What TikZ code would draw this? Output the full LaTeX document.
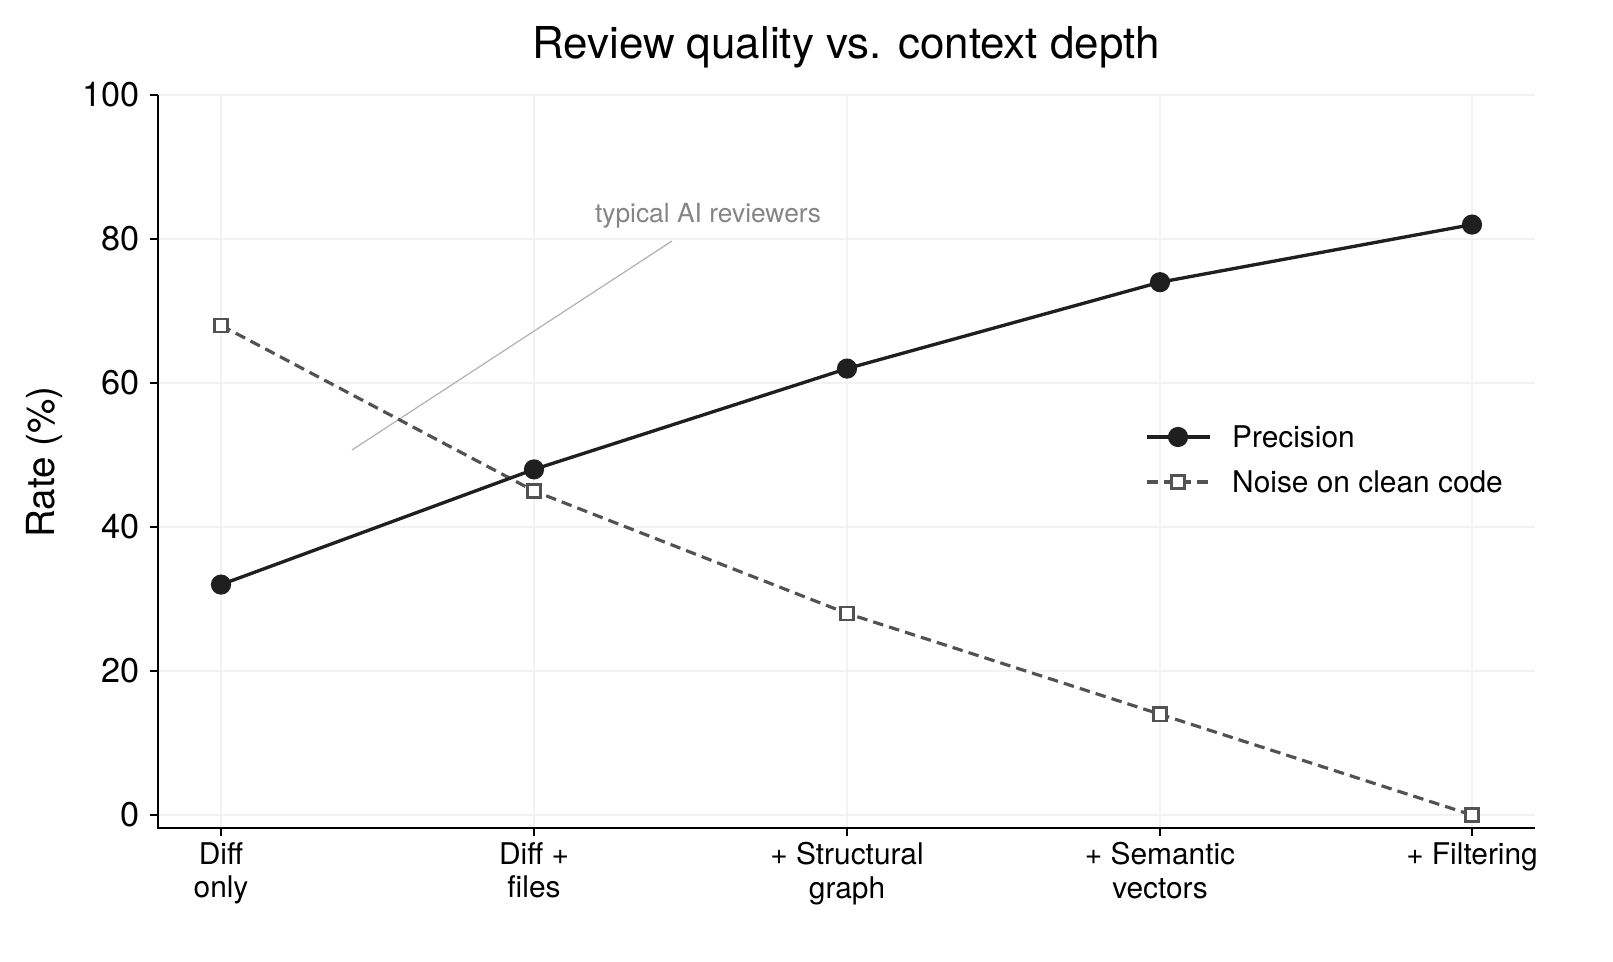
\documentclass[tikz,border=0pt]{standalone}
\usepackage{fontspec}
\setmainfont{TeX Gyre Heros}
\begin{document}
\begin{tikzpicture}[x=0.02cm,y=-0.02cm]
    \tikzstyle{grid_style} = [black!5, line width=0.6pt]
    \tikzstyle{axis_style} = [black, line width=0.9pt]
    \tikzstyle{prec_dot} = [circle, fill=black!88, inner sep=0pt, minimum size=11.5pt]
    \tikzstyle{noise_box} = [draw=black!68, fill=white, line width=1.3pt, inner sep=0pt, minimum size=7.5pt]
    \tikzstyle{prec_line} = [black!88, line width=1.9pt]
    \tikzstyle{noise_line} = [black!68, line width=1.8pt, dash pattern=on 6pt off 3.5pt]
    \tikzstyle{tick_label} = [font=\fontsize{17}{19}\selectfont, align=center]
    \tikzstyle{num_label} = [font=\fontsize{19.5}{21}\selectfont]

    % grid and axes
    \foreach \v in {0,20,...,100}
        \draw[grid_style] (158,815-7.2*\v) -- (1535,815-7.2*\v);
    \foreach \px in {221,534,847,1160,1472}
        \draw[grid_style] (\px,95) -- (\px,828);
    \draw[axis_style] (158,95) -- (158,828) -- (1535,828);
    \foreach \v in {0,20,...,100} {
        \draw[axis_style] (150,815-7.2*\v) -- (158,815-7.2*\v);
        \node[num_label, anchor=east] at (146,815-7.2*\v) {\v};
    }
    \foreach \px/\txt in {221/{Diff\\only},534/{Diff +\\files},847/{+ Structural\\graph},1160/{+ Semantic\\vectors},1472/{+ Filtering\\\strut}} {
        \draw[axis_style] (\px,828) -- (\px,836);
        \node[tick_label, anchor=north, inner sep=0pt] at (\px,842) {\txt};
    }

    \node[font=\fontsize{25}{28}\selectfont] (title) at (846,47) {Review quality vs. context depth};
    \node[font=\fontsize{22}{25}\selectfont, rotate=90] (ylab) at (45,462) {Rate (\%)};

    % annotation
    \node[font=\fontsize{15}{18}\selectfont, text=black!48] (note) at (708,216) {typical AI reviewers};
    \coordinate (note_end) at (352,450);
    \draw[black!30, line width=0.7pt] (672,241) -- (note_end);

    % data
    \foreach \i/\px/\p/\n in {1/221/32/68,2/534/48/45,3/847/62/28,4/1160/74/14,5/1472/82/0} {
        \coordinate (p\i) at (\px,815-7.2*\p);
        \coordinate (q\i) at (\px,815-7.2*\n);
    }
    \draw[noise_line] (q1) -- (q2) -- (q3) -- (q4) -- (q5);
    \foreach \i in {1,...,5} \node[noise_box] (nb\i) at (q\i) {};
    \draw[prec_line] (p1) -- (p2) -- (p3) -- (p4) -- (p5);
    \foreach \i in {1,...,5} \node[prec_dot] (pd\i) at (p\i) {};

    % legend
    \coordinate (lp_a) at (1147,437); \coordinate (lp_b) at (1210,437);
    \coordinate (ln_a) at (1147,482); \coordinate (ln_b) at (1210,482);
    \draw[prec_line] (lp_a) -- (lp_b);
    \node[prec_dot] (lp) at (1178,437) {};
    \draw[noise_line] (ln_a) -- (ln_b);
    \node[noise_box] (ln) at (1178,482) {};
    \node[tick_label, anchor=west] (lt1) at (1226,437) {Precision};
    \node[tick_label, anchor=west] (lt2) at (1226,482) {Noise on clean code};

    \pgfresetboundingbox
    \useasboundingbox (0,0) rectangle (1613,962);
\end{tikzpicture}
\end{document}
